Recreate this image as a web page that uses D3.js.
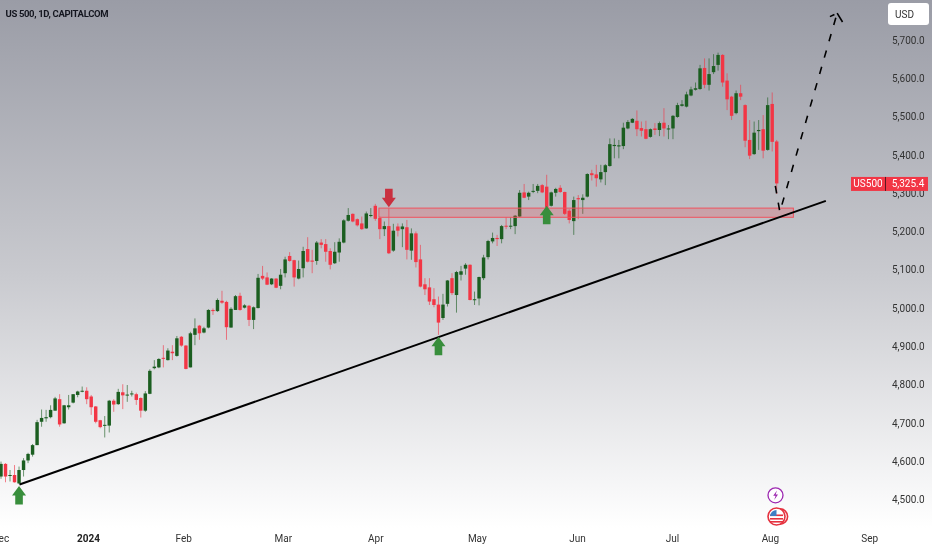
<!DOCTYPE html>
<html><head><meta charset="utf-8">
<script src="https://cdn.jsdelivr.net/npm/d3@7"></script>
<style>html,body{margin:0;padding:0;background:#fff;overflow:hidden}svg{display:block;filter:blur(0.35px)}</style>
</head><body><svg id="c" width="932" height="550"></svg>
<script>
const title = "US 500, 1D, CAPITALCOM";
const priceTicks = [4500,4600,4700,4800,4900,5000,5100,5200,5300,5400,5500,5600,5700];
const timeTickBars = [-0.2,19.3,40.4,62.5,83,105.5,127.7,148.8,170.5,192.5];
const timeTickLabels = ["Dec","2024","Feb","Mar","Apr","May","Jun","Jul","Aug","Sep"];
const opens = [4560,4593,4562,4564,4542,4577,4602,4617,4642,4703,
4712,4715,4732,4762,4699,4741,4753,4773,4782,4784,
4769,4743,4707,4694,4693,4758,4749,4780,4772,4775,
4775,4765,4732,4776,4843,4845,4870,4864,4886,4875,
4925,4902,4845,4930,4954,4936,4949,4995,4992,5019,
5016,4949,4995,5032,5001,5006,4969,5000,5084,5080,
5062,5077,5058,5091,5136,5125,5077,5104,5154,5124,
5123,5171,5167,5149,5117,5145,5171,5228,5246,5232,
5221,5208,5241,5267,5235,5206,5214,5150,5213,5206,
5211,5150,5195,5127,5062,5054,5023,5009,4974,5011,
5078,5034,5087,5103,5113,5021,5025,5078,5133,5174,
5183,5180,5215,5213,5214,5239,5302,5291,5304,5306,
5321,5317,5267,5301,5314,5303,5254,5227,5287,5282,
5291,5352,5349,5336,5355,5371,5423,5422,5423,5469,
5484,5489,5470,5467,5447,5469,5465,5484,5467,5469,
5499,5528,5526,5555,5570,5572,5627,5583,5616,5635,
5661,5594,5552,5509,5561,5530,5439,5402,5462,5467,
5413,5533,5435];
const closes = [4593,4560,4564,4545,4577,4602,4619,4642,4702,4713,
4715,4734,4764,4696,4746,4746,4775,4782,4784,4762,
4741,4703,4689,4695,4758,4748,4781,4772,4774,4777,
4760,4732,4777,4836,4847,4867,4868,4889,4882,4921,
4902,4841,4934,4947,4934,4947,4995,4992,5021,5014,
4950,4998,5031,4995,5007,4969,5002,5079,5077,5061,
5077,5053,5087,5127,5123,5080,5102,5149,5121,5121,
5171,5165,5147,5113,5147,5173,5229,5243,5226,5216,
5206,5247,5243,5233,5206,5214,5143,5202,5202,5213,
5152,5195,5120,5056,5049,5017,5008,4962,5009,5072,
5039,5094,5096,5113,5021,5023,5081,5132,5175,5183,
5180,5214,5213,5215,5241,5301,5288,5301,5306,5319,
5302,5262,5302,5311,5303,5246,5230,5282,5284,5288,
5350,5347,5339,5355,5373,5428,5426,5425,5471,5486,
5494,5467,5463,5442,5467,5465,5483,5469,5469,5502,
5530,5532,5558,5571,5574,5626,5583,5611,5632,5661,
5589,5545,5502,5561,5552,5437,5398,5458,5465,5411,
5530,5434,5325.4];
const highs = [4599,4595,4577,4590,4586,4608,4622,4645,4708,4735,
4734,4746,4768,4775,4747,4773,4775,4784,4795,4793,
4773,4744,4708,4718,4760,4762,4789,4801,4799,4784,
4779,4767,4783,4840,4864,4869,4903,4895,4903,4927,
4927,4903,4938,4973,4956,4951,4997,4999,5025,5045,
5019,5002,5034,5040,5010,5008,5004,5089,5110,5093,
5078,5078,5102,5134,5146,5126,5124,5160,5185,5152,
5175,5180,5180,5156,5172,5182,5232,5261,5247,5234,
5239,5252,5261,5272,5239,5226,5260,5220,5221,5221,
5230,5208,5200,5165,5078,5078,5052,5030,5037,5073,
5091,5097,5110,5117,5114,5043,5082,5139,5178,5197,
5191,5217,5237,5237,5243,5308,5324,5304,5324,5324,
5324,5348,5304,5314,5321,5304,5258,5291,5295,5297,
5352,5361,5374,5374,5376,5443,5443,5439,5484,5491,
5496,5516,5487,5489,5469,5483,5487,5522,5478,5504,
5536,5543,5565,5578,5589,5635,5652,5652,5663,5667,
5663,5613,5554,5568,5583,5532,5491,5487,5491,5504,
5550,5563,5439];
const lows = [4554,4545,4547,4544,4540,4560,4595,4612,4642,4690,
4703,4712,4732,4690,4698,4735,4751,4767,4780,4749,
4721,4699,4686,4662,4675,4729,4747,4736,4755,4769,
4747,4714,4729,4775,4840,4843,4845,4863,4864,4873,
4899,4840,4845,4903,4917,4934,4947,4982,4990,5011,
4917,4949,4995,4993,4999,4953,4945,4999,5073,5060,
5060,5052,5049,5080,5121,5056,5075,5080,5119,5091,
5113,5156,5121,5101,5115,5121,5169,5226,5224,5213,
5204,5207,5237,5228,5180,5188,5141,5147,5187,5159,
5127,5126,5106,5054,5034,5008,5002,4930,4969,5004,
5034,4988,5072,5087,5020,5008,5007,5073,5127,5169,
5162,5169,5206,5206,5193,5237,5287,5282,5300,5300,
5300,5252,5265,5291,5301,5243,5221,5191,5232,5246,
5289,5333,5317,5328,5321,5369,5391,5391,5415,5467,
5483,5449,5448,5441,5445,5452,5449,5448,5441,5441,
5497,5526,5524,5553,5568,5570,5574,5568,5611,5620,
5578,5517,5491,5506,5543,5420,5389,5400,5413,5391,
5411,5409,5298];
const lastPrice = 5325.4;
const trendBars = [4.1,182.9], trendPrices = [4539,5280];
const zoneBars = [83.8,175.7], zonePrices = [5261,5237];
const projectionBars = [171.7,172.7,185.4], projectionPrices = [5319,5251,5770];
const headBars = [183.8,185.4,186.6], headPrices = [5761,5770,5747];
const upArrowBars = [4.0,97,121], upArrowPrices = [4535,4925,5267];
const downArrowBars = [86], downArrowPrices = [5263];

const UP="#1b5e20", DOWN="#f23645", FONT="Roboto, Arial, sans-serif";
const svg=d3.select("#c");
const defs=svg.append("defs");
const g=defs.append("linearGradient").attr("id","bg").attr("x1",0).attr("x2",0).attr("y1",0).attr("y2",1);
g.append("stop").attr("offset","0%").attr("stop-color","#9a9ca6");
g.append("stop").attr("offset","50%").attr("stop-color","#c9cacf");
g.append("stop").attr("offset","96%").attr("stop-color","#ffffff");
svg.append("rect").attr("width",932).attr("height",550).attr("fill","url(#bg)");

const x=d3.scaleLinear().domain([0,172]).range([1,776.7]);
const y=d3.scaleLinear().domain([4500,5700]).range([499.5,40]);
const step=x(1)-x(0), bw=step*0.76;
const bars=d3.range(opens.length);
const color=i=>closes[i]>=opens[i]?UP:DOWN;

const chart=svg.append("g").attr("id","candles");
chart.selectAll("line.w").data(bars).join("line").attr("class","w")
 .attr("x1",x).attr("x2",x).attr("y1",i=>y(highs[i])).attr("y2",i=>y(lows[i]))
 .attr("stroke",color).attr("stroke-width",1).attr("stroke-opacity",0.62);
chart.selectAll("rect.b").data(bars).join("rect").attr("class","b")
 .attr("x",i=>x(i)-bw/2).attr("width",bw)
 .attr("y",i=>y(Math.max(opens[i],closes[i])))
 .attr("height",i=>Math.max(1,Math.abs(y(opens[i])-y(closes[i]))))
 .attr("fill",color);

// support/resistance zone
svg.append("rect").attr("x",x(zoneBars[0])).attr("width",x(zoneBars[1])-x(zoneBars[0]))
 .attr("y",y(zonePrices[0])).attr("height",y(zonePrices[1])-y(zonePrices[0]))
 .attr("fill","#f23645").attr("fill-opacity",0.22).attr("stroke","#f0525e").attr("stroke-width",1);

const ln=d3.line().x(d=>x(d[0])).y(d=>y(d[1]));
svg.append("path").attr("d",ln(d3.zip(trendBars,trendPrices))).attr("fill","none").attr("stroke","#000").attr("stroke-width",2);
svg.append("path").attr("d",ln(d3.zip(projectionBars,projectionPrices))).attr("fill","none").attr("stroke","#000").attr("stroke-width",1.6).attr("stroke-dasharray","7.5 9.5");
svg.append("path").attr("d",ln(d3.zip(headBars,headPrices))).attr("fill","none").attr("stroke","#000").attr("stroke-width",1.6).attr("stroke-dasharray","5 3 12");

function arrow(px,py,dir,fill){
 const p=d3.path(),h=9.5,w=7,s=3.8,L=18.5;
 p.moveTo(px,py);p.lineTo(px+w,py+dir*h);p.lineTo(px+s,py+dir*h);p.lineTo(px+s,py+dir*L);
 p.lineTo(px-s,py+dir*L);p.lineTo(px-s,py+dir*h);p.lineTo(px-w,py+dir*h);p.closePath();
 svg.append("path").attr("d",p.toString()).attr("fill",fill);
}
upArrowBars.forEach((b,i)=>arrow(x(b),y(upArrowPrices[i]),1,"#388e3c"));
downArrowBars.forEach((b,i)=>arrow(x(b),y(downArrowPrices[i]),-1,"#c9303f"));

// axes
const axY=svg.append("g").attr("transform","translate(892,0)")
 .call(d3.axisRight(y).tickValues(priceTicks).tickSize(0).tickPadding(0).tickFormat(d3.format(",.1f")));
const axX=svg.append("g").attr("transform","translate(0,532.5)")
 .call(d3.axisBottom(x).tickValues(timeTickBars).tickSize(0).tickPadding(2).tickFormat((d,i)=>timeTickLabels[i]));
[axY,axX].forEach(a=>{a.select(".domain").remove();a.selectAll("text").attr("font-family",FONT).attr("font-size",10).attr("fill","#333");});
axX.selectAll("text").filter(d=>d===timeTickBars[1]).attr("font-weight",700).attr("fill","#222");

// title
svg.append("text").attr("x",5.5).attr("y",17).text(title).attr("font-family",FONT).attr("font-size",9.5).attr("letter-spacing",-0.35).attr("font-weight",700).attr("fill","#14161f");

// USD button
svg.append("rect").attr("x",888).attr("y",3).attr("width",41).attr("height",22).attr("rx",3).attr("fill","#fff");
svg.append("text").attr("x",895).attr("y",17.5).text("USD").attr("font-family",FONT).attr("font-size",10).attr("fill","#333");

// last price tag
const ly=y(lastPrice)+0.5;
svg.append("rect").attr("x",851).attr("y",ly-7).attr("width",77).attr("height",14).attr("fill","#f23645");
svg.append("line").attr("x1",885.5).attr("x2",885.5).attr("y1",ly-7).attr("y2",ly+7).attr("stroke","#5a1a20").attr("stroke-width",1);
svg.append("text").attr("x",868).attr("y",ly+3.5).attr("text-anchor","middle").text("US500").attr("font-family",FONT).attr("font-size",10).attr("fill","#fff");
svg.append("text").attr("x",908).attr("y",ly+3.5).attr("text-anchor","middle").text(d3.format(",.1f")(lastPrice)).attr("font-family",FONT).attr("font-size",10).attr("fill","#fff");

// event icons
const ev=svg.append("g");
ev.append("circle").attr("cx",775.5).attr("cy",495.3).attr("r",7.5).attr("fill","#fff").attr("stroke","#9c27b0").attr("stroke-width",1.3);
ev.append("path").attr("d","M777 490.5 L773.2 495.8 L775.6 495.8 L774.2 500 L778 494.4 L775.6 494.4 Z").attr("fill","#9c27b0");
ev.append("circle").attr("cx",780).attr("cy",516.5).attr("r",7.6).attr("fill","#fff").attr("stroke","#e5323f").attr("stroke-width",1.6);
ev.append("circle").attr("cx",776.5).attr("cy",516.5).attr("r",8.5).attr("fill","#fff").attr("stroke","#e5323f").attr("stroke-width",1.6);
[514.5,518,521].forEach(v=>ev.append("rect").attr("x",770).attr("y",v).attr("width",13).attr("height",1.6).attr("fill","#e5323f"));
ev.append("path").attr("d","M776.5 510 A6.5 6.5 0 0 0 770 516 L776.5 516 Z").attr("fill","#3f7fc4");
</script></body></html>
